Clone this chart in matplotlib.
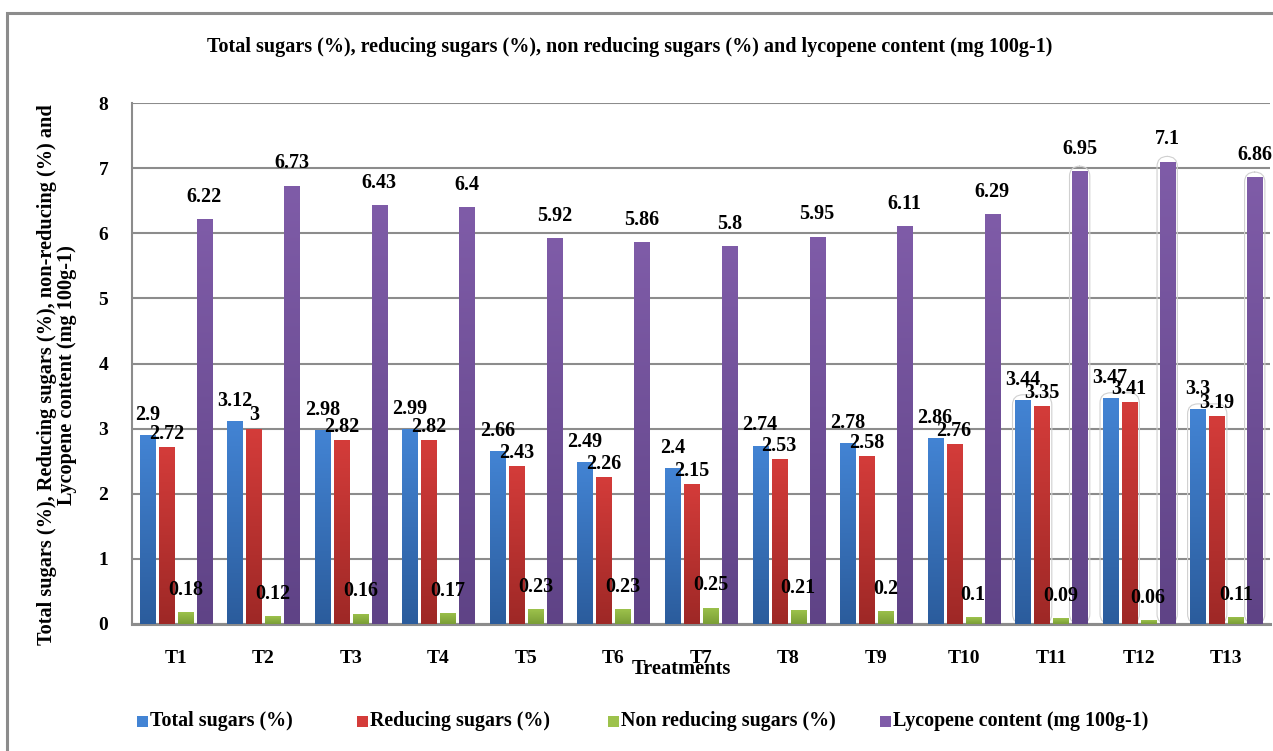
import numpy as np
import matplotlib
matplotlib.use("Agg")
import matplotlib.pyplot as plt
from matplotlib.colors import LinearSegmentedColormap
from matplotlib.patches import Rectangle, FancyBboxPatch

treatments = ["T1", "T2", "T3", "T4", "T5", "T6", "T7", "T8", "T9", "T10", "T11", "T12", "T13"]
total_sugars = [2.9, 3.12, 2.98, 2.99, 2.66, 2.49, 2.4, 2.74, 2.78, 2.86, 3.44, 3.47, 3.3]
reducing_sugars = [2.72, 3, 2.82, 2.82, 2.43, 2.26, 2.15, 2.53, 2.58, 2.76, 3.35, 3.41, 3.19]
non_reducing_sugars = [0.18, 0.12, 0.16, 0.17, 0.23, 0.23, 0.25, 0.21, 0.2, 0.1, 0.09, 0.06, 0.11]
lycopene = [6.22, 6.73, 6.43, 6.4, 5.92, 5.86, 5.8, 5.95, 6.11, 6.29, 6.95, 7.1, 6.86]

series_names = ["Total sugars (%)", "Reducing sugars (%)", "Non reducing sugars (%)",
                "Lycopene content (mg 100g-1)"]
series_values = [total_sugars, reducing_sugars, non_reducing_sugars, lycopene]
# (top colour, bottom colour) of each bar gradient
series_colors = [("#4384D4", "#2B5C9C"), ("#D43C3A", "#9E2826"),
                 ("#9DC24C", "#7A9E36"), ("#7F5CA8", "#5F4386")]
label_offsets = [14.5, 9.5, 16, 16]  # points above bar tops

plt.rcParams["font.family"] = ["Liberation Serif", "DejaVu Serif"]
plt.rcParams["font.weight"] = "bold"

W, H = 1273, 751
fig = plt.figure(figsize=(W / 100, H / 100), dpi=100)
fig.patch.set_facecolor("white")

# chart frame
fig.patches.append(Rectangle((7 / W, -0.05), 1.1, 1 - 13 / H + 0.05, transform=fig.transFigure,
                             fill=False, edgecolor="#8C8C8C", linewidth=2.2, zorder=0))

ax = fig.add_axes([132 / W, (H - 624) / H, (1270 - 132) / W, (624 - 103) / H])
ax.set_xlim(-0.5, len(treatments) - 0.5)
ax.set_ylim(0, 8)

x = np.arange(len(treatments))
bar_w = 0.172
step = 0.217
grad = np.linspace(0, 1, 256).reshape(-1, 1)

for si, (name, vals, (c_top, c_bot)) in enumerate(zip(series_names, series_values, series_colors)):
    cmap = LinearSegmentedColormap.from_list(name, [c_bot, c_top])
    xs = x + (si - 1.5) * step
    bars = ax.bar(xs, vals, width=bar_w, color="none", edgecolor="none", zorder=3)
    for b, v in zip(bars, vals):
        x0 = b.get_x()
        im = ax.imshow(grad, extent=[x0, x0 + bar_w, 0, v], origin="lower", aspect="auto",
                       cmap=cmap, zorder=3, interpolation="bilinear")
        im.set_clip_path(b)
        ax.annotate(f"{v:g}", (x0 + bar_w / 2, v), xytext=(0, label_offsets[si]),
                    textcoords="offset points", ha="center", va="center",
                    fontsize=14.5, fontweight="bold", zorder=5)

# faint rounded outlines around the last three treatments' bars
for i in range(10, 13):
    pair_left = x[i] - 1.5 * step - bar_w / 2
    pair_right = x[i] - 0.5 * step + bar_w / 2
    top = max(total_sugars[i], reducing_sugars[i])
    ax.add_patch(FancyBboxPatch((pair_left - 0.03, 0), pair_right - pair_left + 0.06, top + 0.08,
                                boxstyle="round,pad=0,rounding_size=0.12", mutation_aspect=1.3,
                                fill=False, edgecolor="#D0D0D0", linewidth=0.8, zorder=2))
    pl = x[i] + 1.5 * step - bar_w / 2
    ax.add_patch(FancyBboxPatch((pl - 0.03, 0), bar_w + 0.06, lycopene[i] + 0.08,
                                boxstyle="round,pad=0,rounding_size=0.12", mutation_aspect=1.3,
                                fill=False, edgecolor="#D0D0D0", linewidth=0.8, zorder=2))

ax.set_yticks(range(0, 9))
ax.set_xticks(x)
ax.set_xticklabels(treatments)
ax.yaxis.grid(True, color="#8C8C8C", linewidth=1.5, zorder=0)
ax.set_axisbelow(True)
ax.tick_params(axis="y", length=0, pad=17, labelsize=14)
ax.tick_params(axis="x", length=0, pad=19, labelsize=14)
for lbl in ax.get_xticklabels() + ax.get_yticklabels():
    lbl.set_fontweight("bold")
for s in ["top", "right"]:
    ax.spines[s].set_visible(False)
ax.spines["left"].set_color("#8C8C8C")
ax.spines["left"].set_linewidth(1.5)
ax.spines["bottom"].set_color("#8C8C8C")
ax.spines["bottom"].set_linewidth(2.2)

fig.text(630 / W, 1 - 47 / H,
         "Total sugars (%), reducing sugars (%), non reducing sugars (%) and lycopene content (mg 100g-1)",
         ha="center", va="center", fontsize=14.5, fontweight="bold")

fig.text(57 / W, 1 - 375 / H,
         "Total sugars (%), Reducing sugars (%), non-reducing (%) and\nLycopene content (mg 100g-1)",
         rotation=90, ha="center", va="center", multialignment="center",
         fontsize=14.6, fontweight="bold", linespacing=0.95)

fig.text(681 / W, 1 - 669 / H, "Treatments", ha="center", va="center",
         fontsize=14.8, fontweight="bold")

# legend row
legend_x = [137, 357, 608, 880]
for (name, (c_top, c_bot)), lx in zip(zip(series_names, series_colors), legend_x):
    fig.patches.append(Rectangle((lx / W, 1 - 727 / H), 11 / W, 11 / H, transform=fig.transFigure,
                                 facecolor=c_top, edgecolor="none"))
    fig.text((lx + 13) / W, 1 - 721 / H, name, ha="left", va="center",
             fontsize=14.4, fontweight="bold")

fig.savefig("out.png", dpi=100)
